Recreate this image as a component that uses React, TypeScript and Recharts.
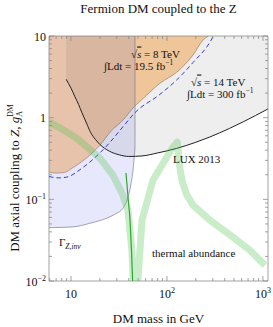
import React from 'react';
import { ComposedChart, Area, Line, XAxis, YAxis, ReferenceArea } from 'recharts';

const W = 273;
const H = 327;
const PLOT = { left: 49, top: 36, right: 268, bottom: 281 };
const FONT = '"Liberation Serif", "Times New Roman", serif';
const FRAME = '#8c8c8c';

const X_DOMAIN = [5.9, 1130];
const Y_DOMAIN = [0.01, 10];

// tick values
const xMajor = [10, 100, 1000];
const xMinor = [6, 7, 8, 9, 20, 30, 40, 50, 60, 70, 80, 90, 200, 300, 400, 500, 600, 700, 800, 900];
const yMajor = [0.01, 0.1, 1, 10];
const yMinor = [
  0.02, 0.03, 0.04, 0.05, 0.06, 0.07, 0.08, 0.09,
  0.2, 0.3, 0.4, 0.5, 0.6, 0.7, 0.8, 0.9,
  2, 3, 4, 5, 6, 7, 8, 9,
];
const xTickLabels: Record<number, [string, string]> = {
  10: ['10', ''],
  100: ['10', '2'],
  1000: ['10', '3'],
};
const yTickLabels: Record<number, [string, string]> = {
  10: ['10', ''],
  1: ['1', ''],
  0.1: ['10', '\u22121'],
  0.01: ['10', '\u22122'],
};

// LHC 8 TeV mono-jet bound (excluded above)
const lhc8Mass = [5.9, 7, 8.5, 10.5, 13, 15.8, 20, 26, 35, 46, 55, 85, 127, 187, 237, 270];
const lhc8Coupling = [0.215, 0.21, 0.213, 0.245, 0.29, 0.35, 0.46, 0.68, 0.94, 1.38, 1.67, 2.65, 3.62, 5.85, 8.9, 10];

// LHC 14 TeV projection (dashed)
const lhc14Mass = [5.9, 7.5, 9, 13.3, 20, 25.5, 35, 46.4, 84.5, 126, 188, 280, 305];
const lhc14Coupling = [0.19, 0.183, 0.187, 0.245, 0.37, 0.5, 0.78, 1.15, 1.93, 2.89, 4.77, 8.37, 10];

// invisible Z width bound
const zinvMass = [5.9, 10.5, 15.8, 23.7, 30.2, 34, 39.2, 42, 44.3, 45.6, 46.4, 46.45];
const zinvCoupling = [0.045, 0.046, 0.051, 0.059, 0.068, 0.075, 0.106, 0.15, 0.228, 0.33, 0.44, 10];

// LUX 2013 direct detection
const luxMass = [8.9, 10, 11, 12, 13, 14.5, 16, 18, 20, 25, 32, 40, 55, 80, 126, 200, 280, 450, 624, 1130];
const luxCoupling = [2.95, 2.3, 1.8, 1.45, 1.15, 0.86, 0.66, 0.54, 0.47, 0.39, 0.35, 0.335, 0.34, 0.37, 0.42, 0.5, 0.58, 0.74, 0.89, 1.28];

// thermal abundance band
const thermalMass = [5.9, 7.7, 11.5, 20, 27.4, 34.8, 39.2, 43.1, 46.6, 49.7, 55, 71.5, 100, 116, 128, 131, 136, 143, 160, 187, 280, 487, 733, 1050];
const thermalCoupling = [0.88, 0.75, 0.56, 0.32, 0.198, 0.112, 0.074, 0.024, 0.0034, 0.01, 0.056, 0.172, 0.33, 0.44, 0.5, 0.4, 0.25, 0.172, 0.115, 0.085, 0.0556, 0.0344, 0.0238, 0.0156];

// thin thermal line near the Z pole
const poleMass = [37.4, 39.5, 41.2, 42.6, 43.9, 44.5];
const poleCoupling = [0.21, 0.1, 0.056, 0.025, 0.01, 0.007];

const zip = (xs: number[], ys: number[]) => xs.map((x, i) => ({ x, y: ys[i] }));

const lhc8 = zip(lhc8Mass, lhc8Coupling);
const lhc14 = zip(lhc14Mass, lhc14Coupling);
const zinv = zip(zinvMass, zinvCoupling);
const lux = zip(luxMass, luxCoupling);
const thermal = zip(thermalMass, thermalCoupling);
const pole = zip(poleMass, poleCoupling);

const XTick = (props: any) => {
  const { x, payload } = props;
  const v = payload.value;
  const len = xMajor.includes(v) ? 5 : 3;
  const lab = xTickLabels[v];
  return (
    <g>
      <line x1={x} x2={x} y1={PLOT.bottom} y2={PLOT.bottom - len} stroke={FRAME} strokeWidth={0.8} />
      <line x1={x} x2={x} y1={PLOT.top} y2={PLOT.top + len} stroke={FRAME} strokeWidth={0.8} />
      {lab && (
        <text x={x} y={PLOT.bottom + 17} textAnchor="middle" fontSize={12} fontFamily={FONT} fill="#111">
          {lab[0]}
          {lab[1] && <tspan dy={-5} fontSize={8}>{lab[1]}</tspan>}
        </text>
      )}
    </g>
  );
};

const YTick = (props: any) => {
  const { y, payload } = props;
  const v = payload.value;
  const len = yMajor.includes(v) ? 5 : 3;
  const lab = yTickLabels[v];
  return (
    <g>
      <line x1={PLOT.left} x2={PLOT.left + len} y1={y} y2={y} stroke={FRAME} strokeWidth={0.8} />
      <line x1={PLOT.right} x2={PLOT.right - len} y1={y} y2={y} stroke={FRAME} strokeWidth={0.8} />
      {lab && (
        <text x={PLOT.left - 3} y={y + 4.5} textAnchor="end" fontSize={12} fontFamily={FONT} fill="#111">
          {lab[0]}
          {lab[1] && <tspan dy={-5} fontSize={8}>{lab[1]}</tspan>}
        </text>
      )}
    </g>
  );
};

const txt = { fontFamily: FONT, fill: '#111' };

export default function App() {
  return (
    <div style={{ position: 'absolute', left: 0, top: 0, width: W, height: H, background: '#fff' }}>
      <ComposedChart
        width={W}
        height={H}
        margin={{ top: PLOT.top, right: W - PLOT.right, bottom: 16, left: 4 }}
      >
        <XAxis
          dataKey="x"
          type="number"
          scale="log"
          domain={X_DOMAIN}
          allowDataOverflow
          ticks={[...xMajor, ...xMinor]}
          interval={0}
          tick={<XTick />}
          tickLine={false}
          axisLine={false}
          height={30}
        />
        <YAxis
          type="number"
          scale="log"
          domain={Y_DOMAIN}
          allowDataOverflow
          ticks={[...yMajor, ...yMinor]}
          interval={0}
          tick={<YTick />}
          tickLine={false}
          axisLine={false}
          width={45}
        />
        <Area
          data={lhc8}
          dataKey="y"
          type="monotone"
          baseValue={10}
          fill="#ffd5a4"
          fillOpacity={1}
          stroke="#b39077"
          strokeWidth={0.8}
          isAnimationActive={false}
          dot={false}
          activeDot={false}
        />
        <Area
          data={zinv}
          dataKey="y"
          type="monotone"
          baseValue={10}
          fill="rgb(63,63,230)"
          fillOpacity={0.12}
          stroke="#8a8aa8"
          strokeWidth={0.8}
          isAnimationActive={false}
          dot={false}
          activeDot={false}
        />
        <Area
          data={lux}
          dataKey="y"
          type="monotone"
          baseValue={10}
          fill="#000"
          fillOpacity={0.066}
          stroke="#222"
          strokeWidth={1}
          isAnimationActive={false}
          dot={false}
          activeDot={false}
        />
        <Line
          data={lhc14}
          dataKey="y"
          type="monotone"
          stroke="#3a3ad8"
          strokeWidth={1}
          strokeDasharray="4.5 3"
          dot={false}
          activeDot={false}
          isAnimationActive={false}
        />
        <Line
          data={thermal}
          dataKey="y"
          type="linear"
          stroke="#4cc54c"
          strokeOpacity={0.3}
          strokeWidth={7}
          strokeLinejoin="round"
          dot={false}
          activeDot={false}
          isAnimationActive={false}
        />
        <Line
          data={pole}
          dataKey="y"
          type="monotone"
          stroke="#2ca82c"
          strokeWidth={1.2}
          dot={false}
          activeDot={false}
          isAnimationActive={false}
        />
        <ReferenceArea
          x1={X_DOMAIN[0]}
          x2={X_DOMAIN[1]}
          y1={Y_DOMAIN[0]}
          y2={Y_DOMAIN[1]}
          fill="none"
          stroke={FRAME}
          strokeWidth={0.8}
          ifOverflow="extendDomain"
        />
      </ComposedChart>
      <svg
        width={W}
        height={H}
        style={{ position: 'absolute', left: 0, top: 0, pointerEvents: 'none' }}
      >
        <text x={(PLOT.left + PLOT.right) / 2} y={12.5} textAnchor="middle" fontSize={13} {...txt}>
          Fermion DM coupled to the Z
        </text>
        <text x={(PLOT.left + PLOT.right) / 2} y={323} textAnchor="middle" fontSize={13} {...txt}>
          DM mass in GeV
        </text>
        <text transform="translate(19,178) rotate(-90)" textAnchor="middle" fontSize={13} {...txt}>
          DM axial coupling to <tspan fontStyle="italic">Z</tspan>, <tspan fontStyle="italic">g</tspan>
          <tspan fontSize={8} dy={3}>A</tspan>
          <tspan fontSize={8} dx={-6} dy={-9}>DM</tspan>
        </text>

        <text x={131} y={57.5} fontSize={11} {...txt}>
          √<tspan fontStyle="italic" style={{ textDecoration: 'overline' }}>s</tspan> = 8 TeV
        </text>
        <text x={104} y={70} fontSize={11} {...txt}>
          ∫Ldt = 19.5 fb<tspan fontSize={7.5} dy={-5}>−1</tspan>
        </text>
        <text x={191} y={85.5} fontSize={11} {...txt}>
          √<tspan fontStyle="italic" style={{ textDecoration: 'overline' }}>s</tspan> = 14 TeV
        </text>
        <text x={187} y={97.5} fontSize={11} {...txt}>
          ∫Ldt = 300 fb<tspan fontSize={7.5} dy={-5}>−1</tspan>
        </text>
        <text x={173} y={163} fontSize={11} {...txt}>
          LUX 2013
        </text>
        <text x={59} y={246} fontSize={11} {...txt}>
          Γ<tspan fontSize={7.5} fontStyle="italic" dy={2.5}>Z,inv</tspan>
        </text>
        <text x={152} y={257} fontSize={11} {...txt}>
          thermal abundance
        </text>
      </svg>
    </div>
  );
}
